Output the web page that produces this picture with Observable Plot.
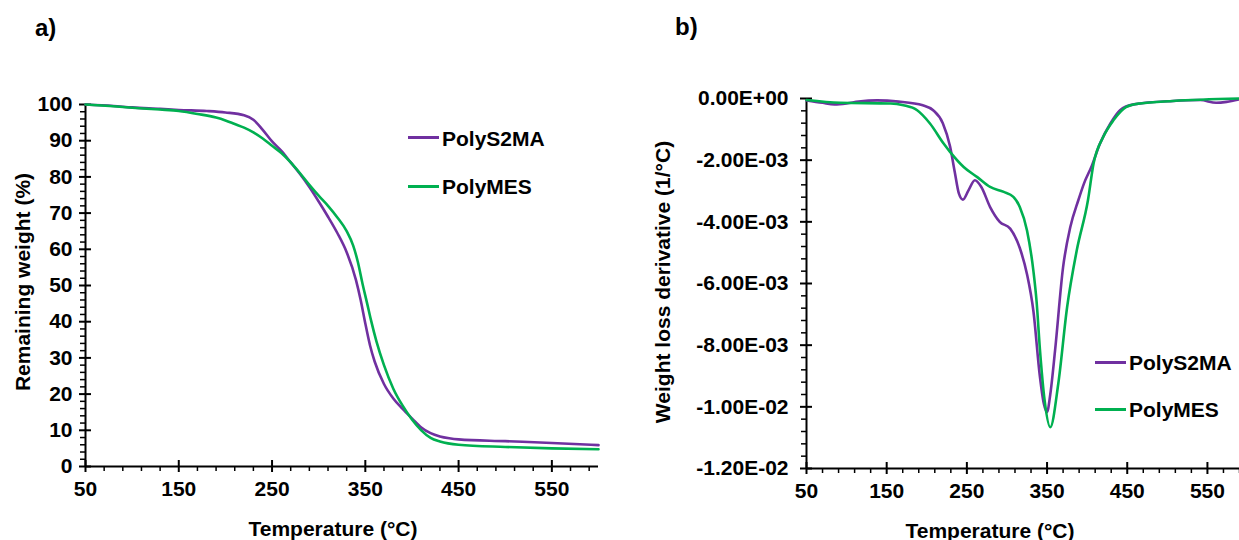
<!DOCTYPE html>
<html><head><meta charset="utf-8">
<script src="https://cdn.jsdelivr.net/npm/d3@7"></script>
<script src="https://cdn.jsdelivr.net/npm/@observablehq/plot@0.6"></script>
<style>
html,body{margin:0;padding:0;background:#fff;overflow:hidden;}
#root{position:relative;width:1239px;height:540px;font-family:"Liberation Sans",Arial,sans-serif;font-weight:bold;color:#000;overflow:hidden;}
.abs{position:absolute;white-space:nowrap;line-height:1;}
.panel{position:absolute;top:0;}
.lab{font-size:24px;}
.title{font-size:21px;}
.legline{position:absolute;height:3px;}
.legtext{font-size:21px;}
</style></head><body><div id="root"></div>
<script>
// ---------------- data ----------------
const seriesNames = ["PolyS2MA", "PolyMES"];

// Panel a) TGA: remaining weight (%)
const tgaS2maT = [50,80,100,130,150,180,200,220,230,240,250,260,270,280,290,300,310,320,330,340,345,350,355,360,370,380,390,400,410,420,430,440,450,500,550,600];
const tgaS2maW = [100,99.6,99.2,98.8,98.5,98.2,97.8,97.0,95.8,93.0,89.8,87.2,84.0,80.8,77.2,73.2,69.0,64.5,59.2,51.5,46.0,39.5,33.5,29.0,22.8,18.8,15.9,13.3,10.8,9.2,8.3,7.8,7.5,7.0,6.5,5.9];
const tgaMesT = [50,80,100,130,150,170,190,200,210,220,230,240,250,260,270,280,290,300,310,320,330,337,342,347,352,356,362,370,380,390,400,410,420,430,450,500,550,600];
const tgaMesW = [100,99.5,99.1,98.6,98.2,97.4,96.4,95.6,94.6,93.6,92.3,90.6,88.6,86.6,84.0,81.0,77.8,74.8,72.0,68.8,65.0,61.0,56.5,50.5,45.0,40.5,34.5,28.0,21.5,16.8,13.0,10.0,7.9,6.9,6.0,5.4,5.0,4.75];

// Panel b) DTG: weight loss derivative (1/°C)
const dtgS2maT = [50,70,85,100,115,138,165,195,208,220,229,235,240,245,252,260,268,279,291,304,316,325,333,341,346,350,354,360,370,379,389,396,406,416,429,441,458,507,541,561,574,590];
const dtgS2maD = [-0.06e-3,-0.14e-3,-0.19e-3,-0.16e-3,-0.10e-3,-0.06e-3,-0.10e-3,-0.22e-3,-0.38e-3,-0.80e-3,-1.55e-3,-2.40e-3,-3.08e-3,-3.28e-3,-2.98e-3,-2.65e-3,-2.87e-3,-3.52e-3,-4.00e-3,-4.22e-3,-4.85e-3,-5.70e-3,-6.90e-3,-9.00e-3,-9.90e-3,-10.17e-3,-9.60e-3,-8.17e-3,-5.47e-3,-4.17e-3,-3.30e-3,-2.76e-3,-2.17e-3,-1.46e-3,-0.81e-3,-0.38e-3,-0.19e-3,-0.08e-3,-0.05e-3,-0.14e-3,-0.11e-3,-0.03e-3];
const dtgMesT = [50,92,155,171,188,204,221,229,246,263,279,296,308,316,325,333,337,341,347,354,364,375,387,401,408,420,433,449,466,507,590];
const dtgMesD = [-0.05e-3,-0.14e-3,-0.16e-3,-0.22e-3,-0.38e-3,-0.81e-3,-1.46e-3,-1.73e-3,-2.22e-3,-2.55e-3,-2.87e-3,-3.03e-3,-3.19e-3,-3.52e-3,-4.28e-3,-5.60e-3,-6.60e-3,-8.10e-3,-9.80e-3,-10.66e-3,-9.25e-3,-6.77e-3,-4.93e-3,-3.30e-3,-2.11e-3,-1.25e-3,-0.70e-3,-0.27e-3,-0.16e-3,-0.08e-3,0];

// ticks
const xMajorTicks = [50,150,250,350,450,550];
const yMajorTicksA = [0,10,20,30,40,50,60,70,80,90,100];
const yMajorTicksB = [0,-0.002,-0.004,-0.006,-0.008,-0.010,-0.012];
const yTickLabelsB = ["0.00E+00","-2.00E-03","-4.00E-03","-6.00E-03","-8.00E-03","-1.00E-02","-1.20E-02"];

// ---------------- styling ----------------
const PURPLE = "#7030A0", GREEN = "#00B050";
const FONT = '"Liberation Sans", Arial, sans-serif';
const xMinor = d3.range(1, 28).filter(k => k % 5 !== 0).map(k => 50 + 20 * k);
const yMinorA = d3.range(0, 51).filter(k => k % 5 !== 0).map(k => 2 * k);
const yMinorB = d3.range(0, 31).filter(k => k % 5 !== 0).map(k => -k * 0.0004);

const rows = (T, V) => T.map((t, i) => ({t, v: V[i]}));

function axisMarks(xmin, ymin, yTicks, yMinor, yFmt, labelPadY) {
  return [
    Plot.axisX({ticks: xMajorTicks, tickSize: 0, tickPadding: 15, label: null, fontSize: 21}),
    Plot.axisY({ticks: yTicks, tickSize: 0, tickPadding: labelPadY, label: null, tickFormat: yFmt, fontSize: 21}),
    Plot.ruleX(xMinor, {x: d => d, y1: ymin, y2: ymin, insetBottom: -5, stroke: "black", strokeWidth: 1.5}),
    Plot.ruleX(xMajorTicks, {x: d => d, y1: ymin, y2: ymin, insetTop: -6, insetBottom: -6, stroke: "black", strokeWidth: 2}),
    Plot.ruleY(yMinor, {y: d => d, x1: xmin, x2: xmin, insetLeft: -5, stroke: "black", strokeWidth: 1.5}),
    Plot.ruleY(yTicks, {y: d => d, x1: xmin, x2: xmin, insetLeft: -6, insetRight: -6, stroke: "black", strokeWidth: 2}),
    Plot.ruleX([xmin], {stroke: "black", strokeWidth: 2}),
    Plot.ruleY([ymin], {stroke: "black", strokeWidth: 2})
  ];
}

const styleObj = {fontFamily: FONT, fontWeight: "bold", fontSize: "21px", color: "black", background: "transparent", overflow: "visible"};

const plotA = Plot.plot({
  width: 620, height: 540,
  marginLeft: 85, marginRight: 22, marginTop: 104, marginBottom: 74,
  x: {domain: [50, 600]},
  y: {domain: [0, 100]},
  style: styleObj,
  marks: [
    ...axisMarks(50, 0, yMajorTicksA, yMinorA, d => String(d), 13),
    Plot.line(rows(tgaS2maT, tgaS2maW), {x: "t", y: "v", stroke: PURPLE, strokeWidth: 2.6, curve: "monotone-x"}),
    Plot.line(rows(tgaMesT, tgaMesW), {x: "t", y: "v", stroke: GREEN, strokeWidth: 2.6, curve: "monotone-x"})
  ]
});

const plotB = Plot.plot({
  width: 619, height: 540,
  marginLeft: 186, marginRight: 0, marginTop: 98, marginBottom: 72,
  x: {domain: [50, 590]},
  y: {domain: [-0.012, 0]},
  style: styleObj,
  marks: [
    ...axisMarks(50, -0.012, yMajorTicksB, yMinorB, (d, i) => yTickLabelsB[i], 18),
    Plot.line(rows(dtgS2maT, dtgS2maD), {x: "t", y: "v", stroke: PURPLE, strokeWidth: 2.6, curve: "monotone-x"}),
    Plot.line(rows(dtgMesT, dtgMesD), {x: "t", y: "v", stroke: GREEN, strokeWidth: 2.6, curve: "monotone-x"})
  ]
});

const root = document.getElementById("root");
function place(el, left) { el.classList.add("panel"); el.style.left = left + "px"; root.appendChild(el); }
place(plotA, 0);
place(plotB, 620);

function text(str, cls, x, y, rot) {
  const d = document.createElement("div");
  d.className = "abs " + cls;
  d.textContent = str;
  d.style.left = x + "px";
  d.style.top = y + "px";
  d.style.transform = "translate(-50%,-50%)" + (rot ? " rotate(" + rot + "deg)" : "");
  root.appendChild(d);
  return d;
}
function leftText(str, cls, x, y) {
  const d = document.createElement("div");
  d.className = "abs " + cls;
  d.textContent = str;
  d.style.left = x + "px";
  d.style.top = y + "px";
  d.style.transform = "translateY(-50%)";
  root.appendChild(d);
}
leftText("a)", "lab", 35, 28);
leftText("b)", "lab", 675, 27);
text("Temperature (°C)", "title", 333, 528);
text("Temperature (°C)", "title", 990, 530);
text("Remaining weight (%)", "title", 22, 282, -90);
text("Weight loss derivative (1/°C)", "title", 662, 282, -90);

function legend(x, ys) {
  [PURPLE, GREEN].forEach((c, i) => {
    const l = document.createElement("div");
    l.className = "legline";
    l.style.left = x + "px"; l.style.width = "31px";
    l.style.top = (ys[i] - 1.5) + "px";
    l.style.background = c;
    root.appendChild(l);
    leftText(seriesNames[i], "legtext", x + 34, ys[i]);
  });
}
legend(408, [137.5, 186]);
legend(1095, [362, 409]);
</script></body></html>
